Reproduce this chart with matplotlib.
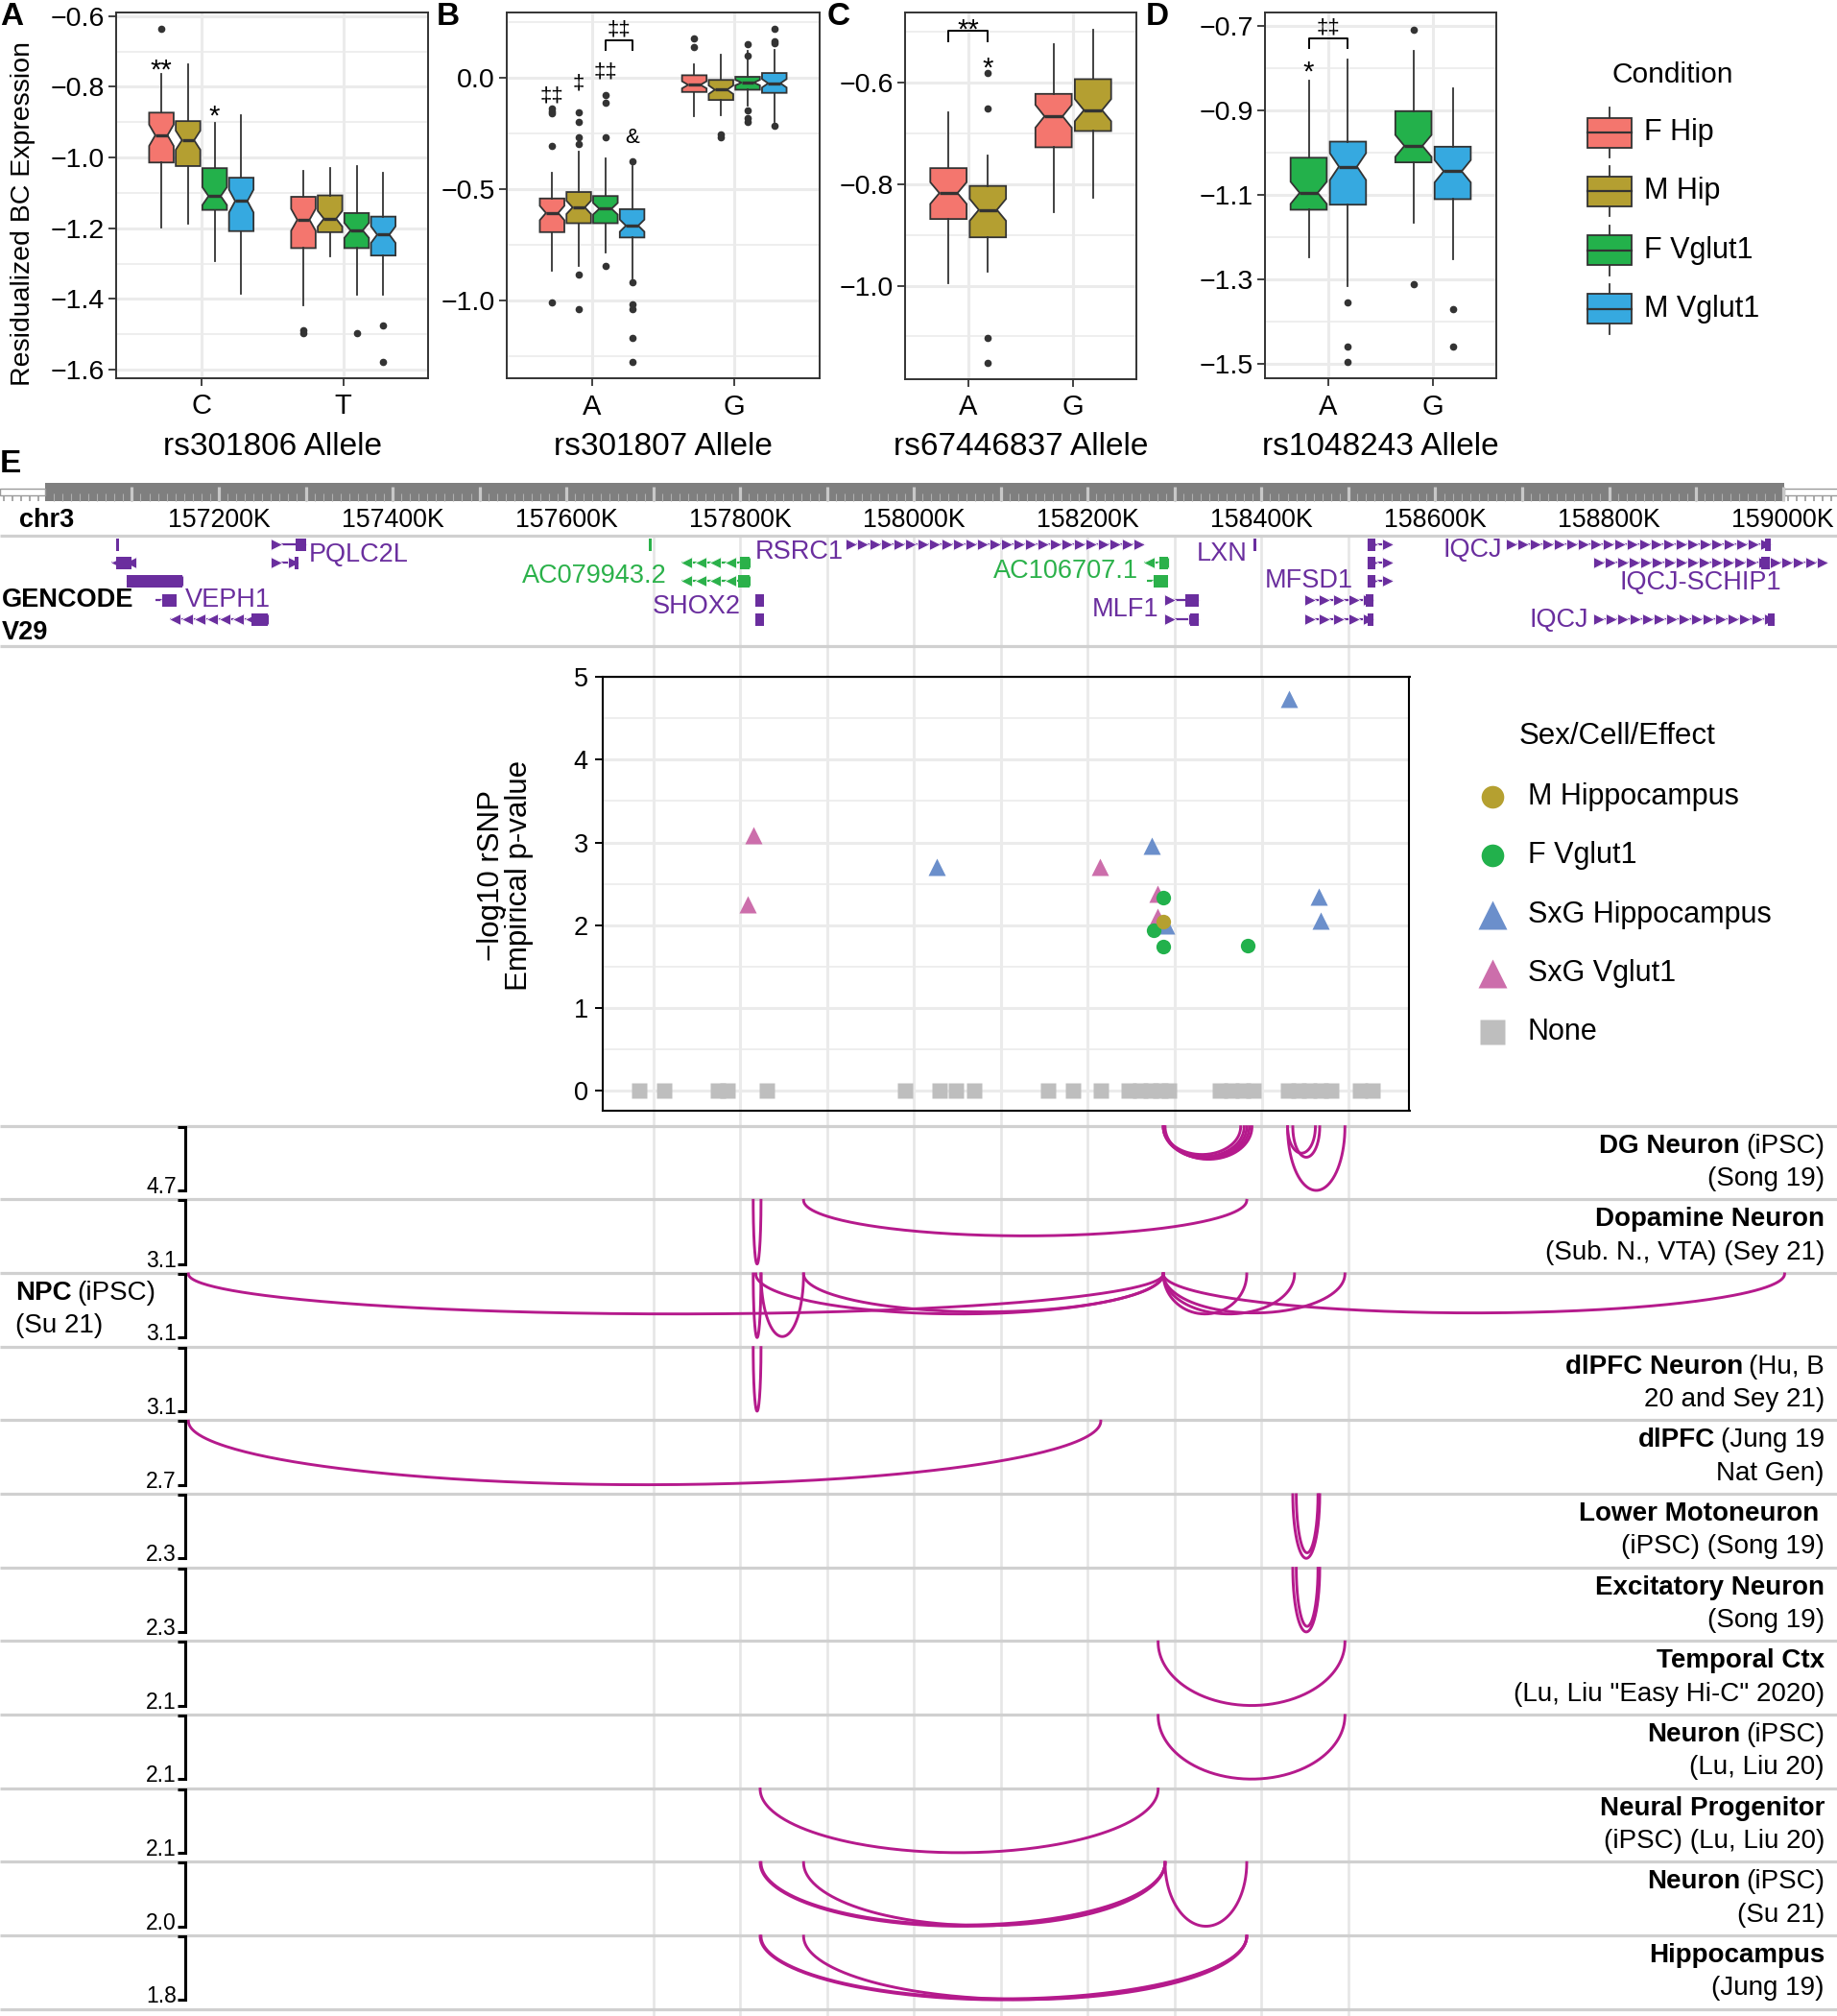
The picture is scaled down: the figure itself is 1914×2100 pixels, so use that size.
import numpy as np
import matplotlib
matplotlib.use("Agg")
import matplotlib.pyplot as plt
from matplotlib.patches import Rectangle

plt.rcParams['font.family'] = ['Liberation Sans', 'DejaVu Sans']

W, H = 1915, 2100
MINUS = '\u2212'

# ======================= DATA =======================
conditions = ['F Hip', 'M Hip', 'F Vglut1', 'M Vglut1']
condition_colors = ['#F4766E', '#B49F31', '#23B14B', '#36A9E0']
notch_n = 55

# Panel A  (rs301806)
A_alleles = ['C', 'T']
A_conds = [0, 1, 2, 3]
A_whishi = [[-0.763, -0.736, -0.903, -0.881], [-1.039, -1.030, -1.025, -1.043]]
A_q3 = [[-0.873, -0.897, -1.030, -1.057], [-1.111, -1.107, -1.157, -1.167]]
A_med = [[-0.937, -0.951, -1.109, -1.123], [-1.176, -1.173, -1.206, -1.218]]
A_q1 = [[-1.014, -1.024, -1.148, -1.208], [-1.256, -1.211, -1.256, -1.277]]
A_whislo = [[-1.197, -1.186, -1.292, -1.386], [-1.419, -1.279, -1.387, -1.387]]
A_fliers = [[[-0.636], [], [], []], [[-1.487, -1.496], [], [-1.496], [-1.475, -1.577]]]

# Panel B  (rs301807)
B_alleles = ['A', 'G']
B_conds = [0, 1, 2, 3]
B_whishi = [[-0.428, -0.335, -0.364, -0.399], [0.060, 0.103, 0.121, 0.125]]
B_q3 = [[-0.543, -0.514, -0.532, -0.591], [0.010, -0.011, 0.003, 0.020]]
B_med = [[-0.608, -0.583, -0.589, -0.665], [-0.033, -0.055, -0.023, -0.026]]
B_q1 = [[-0.694, -0.654, -0.654, -0.718], [-0.065, -0.101, -0.055, -0.069]]
B_whislo = [[-0.866, -0.845, -0.787, -0.902], [-0.172, -0.170, -0.126, -0.198]]
B_fliers = [[[-0.138, -0.150, -0.162, -0.306, -1.010],
             [-0.158, -0.198, -0.267, -0.299, -0.884, -1.039],
             [-0.079, -0.115, -0.267, -0.845],
             [-0.375, -0.917, -1.017, -1.039, -1.168, -1.276]],
            [[0.175, 0.135], [-0.256, -0.270],
             [0.149, 0.099, -0.148, -0.184, -0.201],
             [0.218, 0.164, 0.154, -0.216]]]

# Panel C  (rs67446837)
C_alleles = ['A', 'G']
C_conds = [0, 1]
C_whishi = [[-0.660, -0.745], [-0.526, -0.497]]
C_q3 = [[-0.769, -0.804], [-0.623, -0.594]]
C_med = [[-0.818, -0.851], [-0.667, -0.655]]
C_q1 = [[-0.869, -0.905], [-0.728, -0.696]]
C_whislo = [[-0.996, -0.972], [-0.855, -0.828]]
C_fliers = [[[], [-0.582, -0.651, -1.102, -1.151]], [[], []]]

# Panel D  (rs1048243)
D_alleles = ['A', 'G']
D_conds = [2, 3]
D_whishi = [[-0.830, -0.781], [-0.759, -0.849]]
D_q3 = [[-1.012, -0.974], [-0.902, -0.986]]
D_med = [[-1.095, -1.033], [-0.984, -1.044]]
D_q1 = [[-1.135, -1.123], [-1.023, -1.110]]
D_whislo = [[-1.248, -1.316], [-1.165, -1.253]]
D_fliers = [[[], [-1.354, -1.458, -1.495]], [[-0.709, -1.310], [-1.370, -1.458]]]

# Genome ruler (kb)
ruler_labels_kb = [157200, 157400, 157600, 157800, 158000, 158200, 158400, 158600, 158800, 159000]

# Genes (GENCODE V29), coordinates in kb
gene_start = [157082, 157076, 157094, 157127, 157144, 157261, 157261, 157695, 157732, 157732,
              157818, 157818, 157922, 158265, 158268, 158289, 158289, 158391, 158522, 158522,
              158522, 158450, 158450, 158682, 158783, 158783]
gene_end = [157085, 157104, 157158, 157151, 157256, 157300, 157292, 157697, 157811, 157811,
            157827, 157827, 158265, 158292, 158292, 158328, 158328, 158394, 158551, 158551,
            158551, 158529, 158529, 158986, 159051, 158990]
gene_row = [0, 1, 2, 3, 4, 0, 1, 0, 1, 2, 3, 4, 0, 1, 2, 3, 4, 0, 0, 1, 2, 3, 4, 0, 1, 4]
gene_strand = ['-', '-', '-', '-', '-', '+', '+', '-', '-', '-', '-', '-', '+', '-', '-', '+', '+',
               '-', '+', '+', '+', '+', '+', '+', '+', '+']
gene_green = [0, 0, 0, 0, 0, 0, 0, 1, 1, 1, 0, 0, 0, 1, 1, 0, 0, 0, 0, 0, 0, 0, 0, 0, 0, 0]
gene_thick_start = [157082, 157082, 157094, 157135, 157238, 157288, 157287, 157695, 157800, 157798,
                    157818, 157818, None, 158283, 158276, 158312, 158318, 158391, 158522, 158522,
                    158522, 158520, 158522, 158980, 158975, 158983]
gene_thick_end = [157085, 157100, 157158, 157151, 157256, 157300, 157292, 157697, 157811, 157811,
                  157827, 157827, None, 158292, 158292, 158328, 158328, 158394, 158531, 158531,
                  158531, 158529, 158529, 158986, 158985, 158990]
label_text = ['VEPH1', 'PQLC2L', 'AC079943.2', 'SHOX2', 'RSRC1', 'AC106707.1', 'LXN', 'MLF1',
              'MFSD1', 'IQCJ', 'IQCJ-SCHIP1', 'IQCJ']
label_kb = [157161.4, 157303.3, 157715.9, 157800.5, 157817.5, 158257.8, 158383.6, 158281.4,
            158505.0, 158676.8, 158905.5, 158776.0]
label_y = [625, 578, 600, 632, 575, 595, 577, 635, 605, 573, 607, 646]
label_ha = ['left', 'left', 'right', 'right', 'left', 'right', 'right', 'right', 'right', 'right',
            'center', 'right']
label_green = [0, 0, 1, 0, 0, 1, 0, 0, 0, 0, 0, 0]

# rSNP scatter (position kb, -log10 p)
effect_names = ['M Hippocampus', 'F Vglut1', 'SxG Hippocampus', 'SxG Vglut1', 'None']
effect_colors = ['#B5A030', '#22B14C', '#6B8FCB', '#CC6EAB', '#BEBEBE']
mhip_kb = [158287]
mhip_p = [2.04]
fvg_kb = [158287, 158276, 158287, 158384]
fvg_p = [2.33, 1.94, 1.74, 1.75]
sxg_hip_kb = [158026, 158274, 158290, 158431, 158466, 158468]
sxg_hip_p = [2.71, 2.96, 2.00, 4.73, 2.34, 2.06]
sxg_vg_kb = [157815, 157809, 158214, 158280, 158280]
sxg_vg_p = [3.09, 2.25, 2.71, 2.38, 2.10]
none_kb = [157684, 157713, 157775, 157786, 157831, 157990, 158030, 158048, 158069, 158154,
           158183, 158215, 158247, 158260, 158272, 158283, 158293, 158352, 158365, 158378,
           158391, 158430, 158442, 158455, 158468, 158480, 158513, 158527]
none_p = [0.0] * len(none_kb)

# Chromatin-interaction arc tracks: (start kb, end kb, score)
track_bold = ['DG Neuron', 'Dopamine Neuron', 'NPC', 'dlPFC Neuron', 'dlPFC', 'Lower Motoneuron',
              'Excitatory Neuron', 'Temporal Ctx', 'Neuron', 'Neural Progenitor', 'Neuron',
              'Hippocampus']
track_rest1 = ['(iPSC)', '', '(iPSC)', '(Hu, B', '(Jung 19', '', '', '', '(iPSC)', '', '(iPSC)', '']
track_line2 = ['(Song 19)', '(Sub. N., VTA) (Sey 21)', '(Su 21)', '20 and Sey 21)', 'Nat Gen)',
               '(iPSC) (Song 19)', '(Song 19)', '(Lu, Liu "Easy Hi-C" 2020)', '(Lu, Liu 20)',
               '(iPSC) (Lu, Liu 20)', '(Su 21)', '(Jung 19)']
track_max = [4.7, 3.1, 3.1, 3.1, 2.7, 2.3, 2.3, 2.1, 2.1, 2.1, 2.0, 1.8]
track_arcs = [
    [(158287, 158376, 2.05), (158287, 158380, 2.2), (158287, 158383, 2.3), (158288, 158386, 2.35),
     (158289, 158389, 2.4), (158430, 158462, 1.95), (158436, 158467, 2.25), (158430, 158496, 4.7)],
    [(157815, 157824, 3.1), (157873, 158383, 1.73)],
    [(157165, 158287, 1.95), (157815, 157824, 3.1), (157824, 157873, 3.05), (157818, 158287, 1.95),
     (157873, 158287, 1.85), (158287, 158383, 1.95), (158287, 158438, 1.95),
     (158287, 158496, 1.9), (158287, 159002, 1.9)],
    [(157815, 157824, 3.1)],
    [(157165, 158215, 2.7)],
    [(158436, 158467, 2.3), (158440, 158465, 2.1)],
    [(158436, 158467, 2.3), (158440, 158465, 2.1)],
    [(158281, 158496, 2.1)],
    [(158281, 158496, 2.1)],
    [(157823, 158281, 2.1)],
    [(157823, 158289, 2.0), (157824, 158289, 1.96), (157873, 158289, 1.98), (158289, 158383, 2.0)],
    [(157823, 158383, 1.8), (157824, 158383, 1.77), (157873, 158383, 1.79)],
]

# ======================= LAYOUT HELPERS =======================
G0, PX0, PXPERK = 157000.0, 46.9, 0.90535


def gx(g):
    return PX0 + (np.asarray(g, dtype=float) - G0) * PXPERK


def g_at(px):
    return G0 + (px - PX0) / PXPERK


fig = plt.figure(figsize=(W / 100, H / 100), dpi=100)
bg = fig.add_axes([0, 0, 1, 1], zorder=0)
bg.set_xlim(0, W)
bg.set_ylim(H, 0)
bg.axis('off')
renderer = fig.canvas.get_renderer()


def ax_px(x0, y0, x1, y1, **kw):
    return fig.add_axes([x0 / W, 1 - y1 / H, (x1 - x0) / W, (y1 - y0) / H], **kw)


def fmt1(v):
    s = f"{v:.1f}"
    return s.replace('-', MINUS)


EDGE = '#333333'


def box_panel(rect, alleles, cidx, whislo, q1, med, q3, whishi, fliers, ylim, major, minor):
    ax = ax_px(*rect, zorder=2)
    k = len(cidx)
    dodge = 0.75 / k
    stats, pos, cols = [], [], []
    for i in range(len(alleles)):
        for j in range(k):
            iqr = q3[i][j] - q1[i][j]
            half = 1.58 * iqr / np.sqrt(notch_n)
            stats.append(dict(med=med[i][j], q1=q1[i][j], q3=q3[i][j], whislo=whislo[i][j],
                              whishi=whishi[i][j], fliers=np.array(fliers[i][j]),
                              cilo=med[i][j] - half, cihi=med[i][j] + half))
            pos.append(i + 1 + (j - (k - 1) / 2) * dodge)
            cols.append(condition_colors[cidx[j]])
    bp = ax.bxp(stats, positions=pos, widths=dodge * 0.92, patch_artist=True, shownotches=True,
                showcaps=False,
                boxprops=dict(edgecolor=EDGE, linewidth=1.3),
                whiskerprops=dict(color=EDGE, linewidth=1.3),
                medianprops=dict(color=EDGE, linewidth=2.4),
                flierprops=dict(marker='o', markerfacecolor=EDGE, markeredgecolor=EDGE,
                                markersize=4.5, linestyle='none'))
    for b, c in zip(bp['boxes'], cols):
        b.set_facecolor(c)
    ax.set_xlim(0.4, len(alleles) + 0.6)
    ax.set_ylim(*ylim)
    ax.set_xticks(range(1, len(alleles) + 1), alleles)
    ax.set_yticks(major, [fmt1(v) for v in major])
    ax.set_yticks(minor, minor=True)
    ax.grid(True, which='major', color='#EBEBEB', lw=2.2)
    ax.grid(True, which='minor', axis='y', color='#EBEBEB', lw=1.2)
    ax.set_axisbelow(True)
    ax.tick_params(which='minor', length=0)
    ax.tick_params(axis='y', which='major', length=6, width=1.3, color=EDGE, labelsize=20.5,
                   pad=3)
    ax.tick_params(axis='x', which='major', length=6, width=1.3, color=EDGE, labelsize=21,
                   pad=5)
    for s in ax.spines.values():
        s.set_color(EDGE)
        s.set_linewidth(1.4)
    return ax, pos


def star(ax, x, y, txt, size, dy_pt):
    ax.annotate(txt, (x, y), xytext=(0, -dy_pt), textcoords='offset points', ha='center',
                va='baseline', fontsize=size, zorder=5)


def bracket(ax, x1, x2, ytop, yleg):
    ax.plot([x1, x1, x2, x2], [yleg, ytop, ytop, yleg], color='black', lw=1.4, zorder=5)


# ======================= PANELS A-D =======================
axA, pA = box_panel((121, 12.7, 446.5, 394), A_alleles, A_conds, A_whislo, A_q1, A_med, A_q3,
                    A_whishi, A_fliers, (-1.624, -0.589), [-1.6, -1.4, -1.2, -1.0, -0.8, -0.6],
                    [-1.5, -1.3, -1.1, -0.9, -0.7])
star(axA, pA[0], -0.731, '**', 21, 12)
star(axA, pA[2], -0.862, '*', 21, 12)

axB, pB = box_panel((528, 12.7, 854, 394.3), B_alleles, B_conds, B_whislo, B_q1, B_med, B_q3,
                    B_whishi, B_fliers, (-1.351, 0.293), [-1.0, -0.5, 0.0],
                    [-1.25, -0.75, -0.25, 0.25])
star(axB, pB[0], -0.076, '\u2021\u2021', 16, 5)
star(axB, pB[1], -0.019, '\u2021', 16, 5)
star(axB, pB[2], 0.032, '\u2021\u2021', 16, 5)
star(axB, pB[3], -0.253, '&', 16, 7)
bracket(axB, pB[2], pB[3], 0.168, 0.125)
star(axB, (pB[2] + pB[3]) / 2, 0.221, '\u2021\u2021', 16, 5)

axC, pC = box_panel((943, 13.3, 1184, 395), C_alleles, C_conds, C_whislo, C_q1, C_med, C_q3,
                    C_whishi, C_fliers, (-1.184, -0.4635), [-1.0, -0.8, -0.6],
                    [-1.1, -0.9, -0.7, -0.5])
bracket(axC, pC[0], pC[1], -0.498, -0.519)
star(axC, (pC[0] + pC[1]) / 2, -0.482, '**', 21, 12)
star(axC, pC[1], -0.558, '*', 21, 12)

axD, pD = box_panel((1318.5, 12.7, 1558.6, 394.3), D_alleles, D_conds, D_whislo, D_q1, D_med,
                    D_q3, D_whishi, D_fliers, (-1.534, -0.668), [-1.5, -1.3, -1.1, -0.9, -0.7],
                    [-1.4, -1.2, -1.0, -0.8])
bracket(axD, pD[0], pD[1], -0.729, -0.753)
star(axD, (pD[0] + pD[1]) / 2, -0.702, '\u2021\u2021', 16, 5)
star(axD, pD[0], -0.791, '*', 21, 12)

# axis titles
bg.text(24, 222, 'Residualized BC Expression', rotation=90, ha='center', va='center',
        fontsize=20.5)
for cx, t in [(283.8, 'rs301806 Allele'), (691, 'rs301807 Allele'), (1063.5, 'rs67446837 Allele'),
              (1438.5, 'rs1048243 Allele')]:
    bg.text(cx, 466, t, ha='center', va='center', fontsize=24)
for x, t in [(0, 'A'), (455, 'B'), (862, 'C'), (1194, 'D'), (0, 'E')]:
    bg.text(x, 484 if t == 'E' else 18, t, ha='left', va='center', fontsize=24,
            fontweight='bold')

# Condition legend
bg.text(1680, 78, 'Condition', ha='left', va='center', fontsize=21.5)
for i, (name, col) in enumerate(zip(conditions, condition_colors)):
    yc = 138 + i * 61.3
    bg.plot([1677, 1677], [yc - 26, yc + 26], color=EDGE, lw=1.3, zorder=2)
    bg.add_patch(Rectangle((1654, yc - 15.5), 46, 31, facecolor=col, edgecolor=EDGE, lw=1.3,
                           zorder=3))
    bg.plot([1654, 1700], [yc, yc], color=EDGE, lw=1.6, zorder=4)
    bg.text(1713, yc, name, ha='left', va='center', fontsize=22)

# ======================= GENOME BROWSER (panel E) =======================
grid_kb = np.arange(157700, 158501, 100)
bg.vlines(gx(grid_kb), 558, 2100, color='#E6E6E6', lw=1.9, zorder=0.5)

# ruler
bg.add_patch(Rectangle((gx(157000), 503), gx(159001) - gx(157000), 19, facecolor='#7F7F7F',
                       edgecolor='none', zorder=2))
bg.vlines(gx(np.arange(157010, 159000, 10)), 514, 522, color='#AFAFAF', lw=0.8, zorder=3)
bg.vlines(gx(np.arange(157100, 159001, 100)), 507, 522, color='#C8C8C8', lw=2.3, zorder=3)
for x0, x1 in [(0, gx(157000)), (gx(159001), W)]:
    bg.add_patch(Rectangle((x0, 509), x1 - x0, 7, facecolor='white', edgecolor='#9A9A9A', lw=1,
                           zorder=2))
    bg.vlines(np.arange(x0 + 4, x1, 9), 517, 522, color='#9A9A9A', lw=1.2, zorder=2)
bg.text(20, 542, 'chr3', ha='left', va='center', fontsize=19.5, fontweight='bold')
for kb in ruler_labels_kb:
    bg.text(gx(kb), 542, f'{kb}K', ha='center', va='center', fontsize=19.3)

# separators
track_top = [1172.7 + 76.65 * k for k in range(13)]
bg.hlines([558, 672.5] + track_top, 0, W, color='#D0D0D0', lw=2.3, zorder=1)

# genes
PURPLE, GGREEN = '#6A2E9E', '#2BB14A'
gene_rows_y = [567, 586, 605, 625, 645]
for s, e, r, st, gr, ts, te in zip(gene_start, gene_end, gene_row, gene_strand, gene_green,
                                    gene_thick_start, gene_thick_end):
    col = GGREEN if gr else PURPLE
    y = gene_rows_y[r]
    x0, x1 = gx(s), gx(e)
    bg.plot([x0, x1], [y, y], color=col, lw=1.6, solid_capstyle='butt', zorder=3)
    n = int((x1 - x0) // 12)
    if n >= 1:
        xs = np.linspace(x0 + 5, x1 - 5, n) if n > 1 else [(x0 + x1) / 2]
        bg.plot(xs, [y] * len(xs), linestyle='none', marker='>' if st == '+' else '<',
                markersize=8.5, color=col, markeredgecolor='white', markeredgewidth=0.6,
                zorder=4)
    if ts is not None:
        w = max(gx(te) - gx(ts), 3)
        bg.add_patch(Rectangle((gx(ts), y - 6.5), w, 13, facecolor=col, edgecolor='none',
                               zorder=5))
for t, kb, y, ha, gr in zip(label_text, label_kb, label_y, label_ha, label_green):
    bg.text(gx(kb), y, t, ha=ha, va='center', fontsize=19.5, color=GGREEN if gr else PURPLE)
bg.text(2, 625, 'GENCODE', ha='left', va='center', fontsize=19.5, fontweight='bold')
bg.text(2, 659, 'V29', ha='left', va='center', fontsize=19.5, fontweight='bold')

# ======================= rSNP SCATTER =======================
sax = ax_px(628, 705, 1468.5, 1156.7, zorder=2)
sax.set_xlim(157642, 158570)
sax.set_ylim(-0.237, 4.944)
sax.set_xticks(grid_kb)
sax.tick_params(axis='x', length=0, labelbottom=False)
sax.set_yticks(range(6))
sax.set_yticks([0.5, 1.5, 2.5, 3.5, 4.5], minor=True)
sax.tick_params(axis='y', which='major', length=6, width=1.4, labelsize=19.5, pad=5)
sax.tick_params(which='minor', length=0)
sax.grid(True, which='major', color='#EBEBEB', lw=2.2)
sax.grid(True, which='minor', axis='y', color='#EBEBEB', lw=1.2)
sax.set_axisbelow(True)
for s in sax.spines.values():
    s.set_color('black')
    s.set_linewidth(1.5)
sax.plot(none_kb, none_p, 's', color=effect_colors[4], ms=12.2, mec='none', zorder=3)
sax.plot(sxg_vg_kb, sxg_vg_p, '^', color=effect_colors[3], ms=13, mec='none', zorder=3)
sax.plot(sxg_hip_kb, sxg_hip_p, '^', color=effect_colors[2], ms=13, mec='none', zorder=3)
sax.plot(fvg_kb, fvg_p, 'o', color=effect_colors[1], ms=11, mec='none', zorder=3)
sax.plot(mhip_kb, mhip_p, 'o', color=effect_colors[0], ms=11, mec='none', zorder=3)
bg.text(512, 912, MINUS + 'log10 rSNP', rotation=90, ha='center', va='center', fontsize=22.5)
bg.text(541, 912, 'Empirical p-value', rotation=90, ha='center', va='center', fontsize=22.5)

# scatter legend
bg.text(1583, 767, 'Sex/Cell/Effect', ha='left', va='center', fontsize=22.5)
leg_markers = ['o', 'o', '^', '^', 's']
leg_ms = [17, 17, 22, 22, 19]
for i, (name, col, mk, ms) in enumerate(zip(effect_names, effect_colors, leg_markers, leg_ms)):
    yc = 830 + i * 61.3
    bg.plot([1555], [yc], marker=mk, color=col, ms=ms, mec='none', zorder=3)
    bg.text(1592, yc, name, ha='left', va='center', fontsize=22)

# ======================= ARC TRACKS =======================
ARC = '#B51A8C'
xl0, xl1 = g_at(193), g_at(W)
tt = np.linspace(0, np.pi, 200)
for k in range(12):
    T = track_top[k]
    m = track_max[k]
    tax = ax_px(193, T, W, T + 76.65, zorder=3)
    tax.set_facecolor('none')
    tax.set_xlim(xl0, xl1)
    tax.set_ylim(m * 75.65 / 66.3, -m / 66.3)
    for s in ['top', 'right', 'bottom']:
        tax.spines[s].set_visible(False)
    tax.spines['left'].set_bounds(0, m)
    tax.spines['left'].set_linewidth(2.2)
    tax.set_xticks([])
    tax.set_yticks([0, m], ['', ''])
    tax.tick_params(axis='y', length=6, width=2.2)
    for (s, e, sc) in track_arcs[k]:
        c, r = (s + e) / 2, (e - s) / 2
        tax.plot(c + r * np.cos(tt), sc * np.sin(tt), color=ARC, lw=2.1, clip_on=False)
    bg.text(184, T + 70.5, fmt1(m), ha='right', va='baseline', fontsize=16.5)

    # labels
    fs = 20
    if k == 2:
        t1 = bg.text(16, T + 21, track_bold[k], ha='left', va='center', fontsize=fs,
                     fontweight='bold')
        w = t1.get_window_extent(renderer).width
        bg.text(16 + w + 6, T + 21, track_rest1[k], ha='left', va='center', fontsize=fs)
        bg.text(16, T + 55.5, track_line2[k], ha='left', va='center', fontsize=fs)
    else:
        xr = 1901
        if track_rest1[k]:
            t1 = bg.text(xr, T + 21, track_rest1[k], ha='right', va='center', fontsize=fs)
            w = t1.get_window_extent(renderer).width
            bg.text(xr - w - 6, T + 21, track_bold[k], ha='right', va='center', fontsize=fs,
                    fontweight='bold')
        else:
            bg.text(xr - (6 if k == 5 else 0), T + 21, track_bold[k], ha='right', va='center',
                    fontsize=fs, fontweight='bold')
        bg.text(xr, T + 55.5, track_line2[k], ha='right', va='center', fontsize=fs)

fig.savefig('out.png', dpi=100)
